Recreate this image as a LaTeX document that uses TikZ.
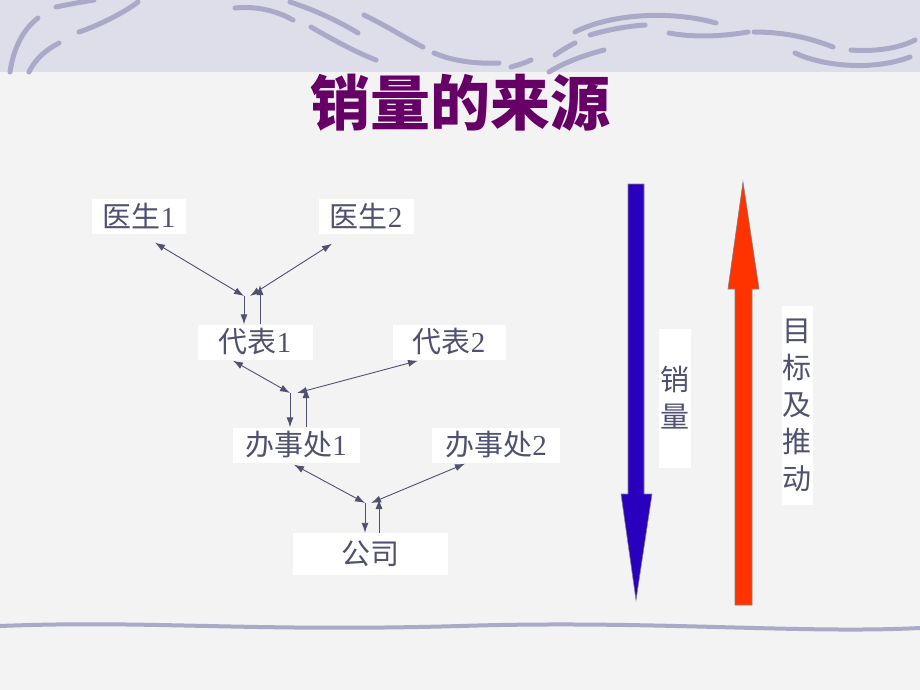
\documentclass[tikz,border=0pt]{standalone}
\usepackage{fontspec}
\setmainfont{Liberation Serif}
\newfontfamily\cjk{Noto Sans CJK SC}
\usetikzlibrary{arrows.meta}

\definecolor{paper}{RGB}{243,243,243}
\definecolor{band}{RGB}{222,222,234}
\definecolor{swoosh}{RGB}{170,170,200}
\definecolor{titlepurple}{RGB}{102,0,102}
\definecolor{inkgray}{RGB}{80,80,112}
\definecolor{salesblue}{RGB}{40,0,190}
\definecolor{targetred}{RGB}{255,51,0}

\tikzset{
  orgbox/.style={fill=white, text=inkgray, minimum height=35pt, inner sep=0pt,
    font=\fontsize{29}{29}\selectfont},
  link/.style={inkgray, line width=0.9pt,
    {Latex[length=10pt,width=7pt]}-{Latex[length=10pt,width=7pt]}},
  feed/.style={inkgray, line width=0.9pt, -{Latex[length=10pt,width=7pt]}},
  wave/.style={swoosh, line width=5pt, line cap=round},
  sidetext/.style={fill=white, text=inkgray, align=center, inner sep=1pt,
    font=\cjk\fontsize{29}{37}\selectfont},
  bigarrow/.style={draw=gray, line width=0.6pt}
}

\begin{document}
\begin{tikzpicture}[x=1pt, y=-1pt]
\useasboundingbox (0,0) rectangle (920,690);
\fill[paper] (0,0) rectangle (920,690);
\fill[band] (0,0) rectangle (920,72);
% top decoration
\draw[wave] (10,72) .. controls (14,45) and (25,28) .. (38,18);
\draw[wave] (29,72) .. controls (36,58) and (46,50) .. (59,43);
\draw[wave] (79,32) .. controls (100,25) and (125,12) .. (138,2);
\draw[wave] (56,7) .. controls (70,4) and (82,2) .. (94,0);
\draw[wave] (235,8) .. controls (255,6) and (275,10) .. (293,20);
\draw[wave] (290,2) .. controls (315,10) and (340,22) .. (358,33);
\draw[wave] (311,27) .. controls (330,38) and (355,52) .. (376,60);
\draw[wave] (364,15) .. controls (385,25) and (405,38) .. (423,47);
\draw[wave] (434,53) .. controls (455,62) and (480,64) .. (499,63);
\draw[wave] (511,67) .. controls (518,65) and (525,63) .. (531,60);
\draw[wave] (549,72) .. controls (565,62) and (585,55) .. (604,50);
\draw[wave] (555,55) .. controls (562,50) and (569,46) .. (575,43);
\draw[wave] (575,32) .. controls (610,14) and (670,10) .. (716,23);
\draw[wave] (590,35) .. controls (610,29) and (630,26) .. (645,25);
\draw[wave] (669,33) .. controls (695,38) and (725,36) .. (748,32);
\draw[wave] (754,32) .. controls (785,32) and (810,38) .. (833,47);
\draw[wave] (795,53) .. controls (820,65) and (870,72) .. (910,57);
\draw[wave] (851,50) .. controls (875,52) and (900,48) .. (915,40);
% bottom line
\draw[wave, line width=4pt] (0,626) .. controls (150,620) and (250,632) .. (460,626)
  .. controls (650,620) and (800,634) .. (920,628);

\node[text=titlepurple, font=\cjk\bfseries\fontsize{60}{60}\selectfont] (title) at (460,103) {销量的来源};

% tree
\node[orgbox, minimum width=94pt] (doc1) at (139,216) {{\cjk 医生}1};
\node[orgbox, minimum width=95pt] (doc2) at (366,216) {{\cjk 医生}2};
\node[orgbox, minimum width=115pt] (rep1) at (255,342) {{\cjk 代表}1};
\node[orgbox, minimum width=113pt] (rep2) at (449,342) {{\cjk 代表}2};
\node[orgbox, minimum width=127pt] (off1) at (296,445) {{\cjk 办事处}1};
\node[orgbox, minimum width=128pt] (off2) at (496,445) {{\cjk 办事处}2};
\node[orgbox, minimum width=155pt, minimum height=42pt] (co) at (370,554) {\cjk 公司};

\coordinate (d1t) at ([shift={(16,9)}]doc1.south);
\coordinate (d2t) at ([shift={(-34,10)}]doc2.south);
\coordinate (j1a) at (244,296);
\coordinate (j1b) at (250,296);
\coordinate (u1) at (260,285);
\draw[link] (d1t) -- (j1a);
\draw[link] (d2t) -- (j1b);
\draw[feed] (j1a) -- (j1a |- rep1.north);
\draw[feed] (u1 |- rep1.north) -- (u1);

\coordinate (r1t) at ([shift={(-22,1)}]rep1.south);
\coordinate (r2t) at ([shift={(-31,1)}]rep2.south);
\coordinate (j2a) at (290,393);
\coordinate (j2b) at (297,393);
\coordinate (u2) at (306,388);
\draw[link] (r1t) -- (j2a);
\draw[link] (r2t) -- (j2b);
\draw[feed] (j2a) -- (j2a |- off1.north);
\draw[feed] (u2 |- off1.north) -- (u2);

\coordinate (o1t) at ([shift={(-2,2)}]off1.south);
\coordinate (o2t) at ([shift={(-31,1)}]off2.south);
\coordinate (j3a) at (365,503);
\coordinate (j3b) at (371,503);
\coordinate (u3) at (379,499);
\draw[link] (o1t) -- (j3a);
\draw[link] (o2t) -- (j3b);
\draw[feed] (j3a) -- (j3a |- co.north);
\draw[feed] (u3 |- co.north) -- (u3);

% big arrows
\filldraw[bigarrow, fill=salesblue] (628,184) -- (644,184) -- (644,494) -- (652,494)
  -- (636,600) -- (621,494) -- (628,494) -- cycle;
\filldraw[bigarrow, fill=targetred] (743,182) -- (759,289) -- (752,289) -- (752,605)
  -- (735,605) -- (735,289) -- (728,289) -- cycle;
\node[sidetext, minimum width=32pt, minimum height=139pt] (salestxt) at (675,398) {销\\量};
\node[sidetext, minimum width=31pt, minimum height=199pt] (goaltxt) at (797,405) {目\\标\\及\\推\\动};
\end{tikzpicture}
\end{document}
